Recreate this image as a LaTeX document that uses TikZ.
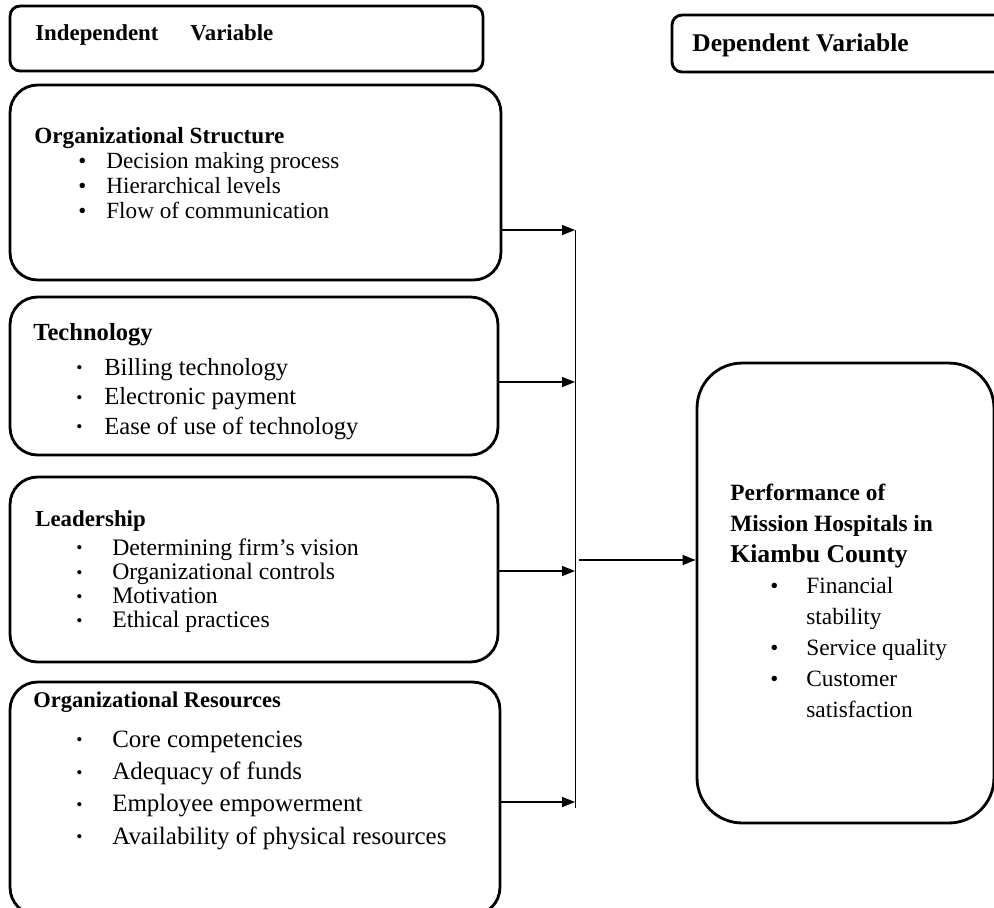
\documentclass[tikz,border=0pt]{standalone}
\usepackage{fontspec}
\setmainfont{Liberation Serif}
\usetikzlibrary{arrows.meta}

\newcommand{\bigdot}{\makebox[0pt][l]{\fontsize{13}{13}\selectfont•}}
\newcommand{\smldot}{\raisebox{0.12ex}{\fontsize{10}{10}\selectfont•}}
% one line of a list: indent, bullet, gap to text, text
\newcommand{\li}[4]{\hspace*{#1}\makebox[#3][l]{#2}#4}

\begin{document}
\begin{tikzpicture}[x=0.02cm,y=-0.02cm]
\tikzstyle{box} = [draw, line width=1.6pt, rounded corners=0.55cm, inner sep=0pt] % variable box
\tikzstyle{hbox} = [draw, line width=1.6pt, rounded corners=0.2cm, inner sep=0pt] % header box
\tikzstyle{txt} = [anchor=north west, inner sep=0pt, align=left] % box text
\tikzstyle{arr} = [line width=0.8pt, -{Triangle[length=2.6mm,width=2mm]}] % arrow into the bus
\useasboundingbox (0,0) rectangle (994,907);

% headers
\node[hbox, minimum width=9.46cm, minimum height=1.3cm] (iv) at (246.5,38.5) {};
\node[txt] (ivt) at (35,24) {\fontsize{13}{16}\selectfont\bfseries Independent\hspace{1.4em}Variable};
\node[hbox, minimum width=6.76cm, minimum height=1.14cm] (dv) at (841,43.5) {};
\node[txt] (dvt) at (692,33) {\fontsize{14.5}{17}\selectfont\bfseries Dependent Variable};

% independent variables
\node[box, minimum width=9.82cm, minimum height=3.9cm] (os) at (255.5,182.5) {};
\node[txt, font=\fontsize{13.2}{14.3}\selectfont] (ost) at (34,127) {\textbf{Organizational Structure}\\
  \li{0.88cm}{\bigdot}{0.56cm}{Decision making process}\\
  \li{0.88cm}{\bigdot}{0.56cm}{Hierarchical levels}\\
  \li{0.88cm}{\bigdot}{0.56cm}{Flow of communication}};

\node[box, minimum width=9.76cm, minimum height=3.16cm] (tech) at (254,376) {};
\node[txt, font=\fontsize{14}{16.8}\selectfont] (techt) at (33,323) {\textbf{Technology}\\[3pt]
  \li{0.86cm}{\smldot}{0.56cm}{Billing technology}\\
  \li{0.86cm}{\smldot}{0.56cm}{Electronic payment}\\
  \li{0.86cm}{\smldot}{0.56cm}{Ease of use of technology}};

\node[box, minimum width=9.76cm, minimum height=3.7cm] (lead) at (254,569.5) {};
\node[txt, font=\fontsize{13.5}{13.8}\selectfont] (leadt) at (35,510) {\textbf{\fontsize{13}{13.8}\selectfont Leadership}\\[2.7pt]
  \li{0.82cm}{\smldot}{0.72cm}{Determining firm’s vision}\\
  \li{0.82cm}{\smldot}{0.72cm}{Organizational controls}\\
  \li{0.82cm}{\smldot}{0.72cm}{Motivation}\\
  \li{0.82cm}{\smldot}{0.72cm}{Ethical practices}};

\node[box, minimum width=9.8cm, minimum height=4.66cm] (res) at (255,798.5) {};
\node[txt, font=\fontsize{14.2}{18.4}\selectfont] (rest) at (33,692) {\textbf{\fontsize{12.8}{18.4}\selectfont Organizational Resources}\\[4pt]
  \li{0.86cm}{\smldot}{0.72cm}{Core competencies}\\
  \li{0.86cm}{\smldot}{0.72cm}{Adequacy of funds}\\
  \li{0.86cm}{\smldot}{0.72cm}{Employee empowerment}\\
  \li{0.86cm}{\smldot}{0.72cm}{Availability of physical resources}};

% dependent variable
\node[box, rounded corners=0.9cm, minimum width=5.94cm, minimum height=9.2cm] (perf) at (845.5,593) {};
\node[txt, font=\fontsize{13.3}{17.6}\selectfont] (perft) at (730,484) {\textbf{Performance of}\\
  \textbf{Mission Hospitals in}\\
  \textbf{\fontsize{14.6}{17.6}\selectfont Kiambu County}\\
  \li{0.8cm}{\bigdot}{0.72cm}{Financial}\\
  \li{0.8cm}{}{0.72cm}{stability}\\
  \li{0.8cm}{\bigdot}{0.72cm}{Service quality}\\
  \li{0.8cm}{\bigdot}{0.72cm}{Customer}\\
  \li{0.8cm}{}{0.72cm}{satisfaction}};

% bus
\coordinate (j1) at (575,230);
\coordinate (j2) at (575,382);
\coordinate (j3) at (575,571);
\coordinate (j4) at (575,802);
\coordinate (jb) at (575,808);
\coordinate (jo) at (579,560);
\draw[line width=0.5pt] (j1) -- (jb);
\draw[arr] (os.east |- j1) -- (j1);
\draw[arr] (tech.east |- j2) -- (j2);
\draw[arr] (lead.east |- j3) -- (j3);
\draw[arr] (res.east |- j4) -- (j4);
\draw[arr] (jo) -- (perf.west |- jo);
\end{tikzpicture}
\end{document}
